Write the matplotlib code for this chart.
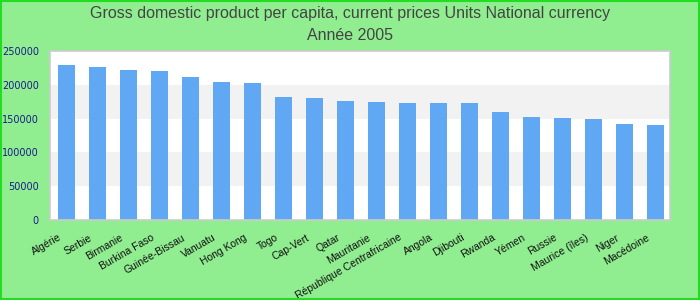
import matplotlib
matplotlib.use("Agg")
import matplotlib.pyplot as plt
from matplotlib.patches import Rectangle
from matplotlib.transforms import ScaledTranslation

countries = ["Algérie", "Serbie", "Birmanie", "Burkina Faso", "Guinée-Bissau", "Vanuatu",
             "Hong Kong", "Togo", "Cap-Vert", "Qatar", "Mauritanie", "République Centrafricaine",
             "Angola", "Djibouti", "Rwanda", "Yémen", "Russie", "Maurice (îles)", "Niger", "Macédoine"]
gdp = [229300, 226300, 221900, 220400, 211500, 204100, 202700, 182000, 180500, 176000,
       174600, 173100, 173100, 173100, 159800, 152400, 150900, 149400, 142000, 140500]
yticks = [0, 50000, 100000, 150000, 200000, 250000]

fig = plt.figure(figsize=(7, 3), dpi=100, facecolor="#90ee90")
ax = fig.add_axes([0.0714, 0.2667, 0.8857, 0.5633])
ax.set_facecolor("white")

# alternating bands
for i in range(len(yticks) - 1):
    if i % 2 == 1:
        ax.axhspan(yticks[i], yticks[i + 1], color="#f2f2f2", zorder=0, lw=0)

x = range(len(countries))
ax.bar(x, gdp, width=0.55, color="#61a8f4", zorder=2)
ax.set_xlim(-0.52, len(countries) - 0.52)
ax.set_ylim(0, 250000)

ax.set_yticks(yticks)
ax.set_yticklabels([str(v) for v in yticks], color="#1a1a8c", fontsize=7, family="DejaVu Sans")
ax.set_xticks(list(x))
ax.set_xticklabels(countries, rotation=30, ha="right", rotation_mode="anchor",
                   fontsize=7.5, family="Liberation Sans", color="#111111")
ax.tick_params(axis="both", length=0)
ax.tick_params(axis="y", pad=8)
ax.tick_params(axis="x", pad=9)
shift = ScaledTranslation(-6 / 72, 0, fig.dpi_scale_trans)
for lab in ax.get_xticklabels():
    lab.set_transform(lab.get_transform() + shift)
for s in ax.spines.values():
    s.set_color("#cccccc")
    s.set_linewidth(1.2)

fig.text(0.5, 0.955, "Gross domestic product per capita, current prices Units National currency",
         ha="center", va="center", fontsize=11.5, color="#444444", family="Liberation Sans")
fig.text(0.5, 0.882, "Année 2005", ha="center", va="center", fontsize=11.5,
         color="#444444", family="Liberation Sans")

fig.patches.append(Rectangle((0.001, 0.002), 0.997, 0.995, transform=fig.transFigure,
                             fill=False, edgecolor="#22dd22", lw=1.5))

fig.savefig("out.png", dpi=100, facecolor=fig.get_facecolor())
